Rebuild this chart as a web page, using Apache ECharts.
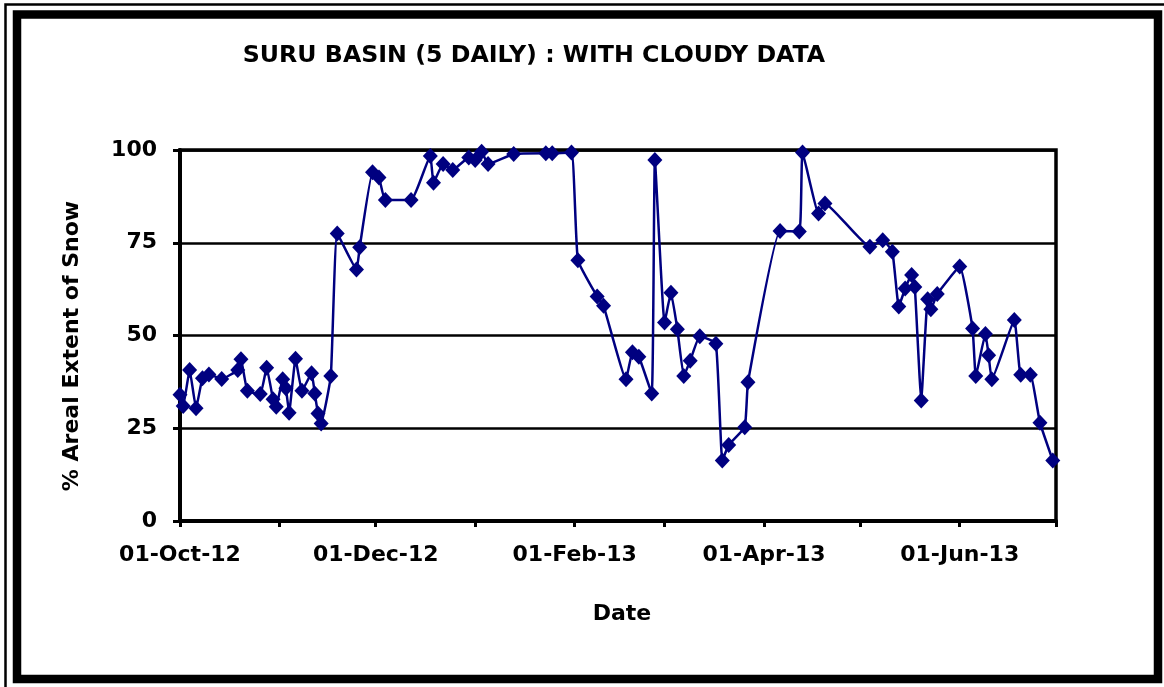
<!DOCTYPE html>
<html>
<head>
<meta charset="utf-8">
<title>Suru Basin snow cover</title>
<script src="https://cdn.jsdelivr.net/npm/echarts@6/dist/echarts.min.js"></script>
<style>
  html, body { margin: 0; padding: 0; background: #ffffff; }
  #chart { width: 1164px; height: 687px; }
</style>
</head>
<body>
<div id="chart"></div>
<script>
// Observation dates (5-daily products, cloudy scenes included)
const dates = [
  '2012-10-01', '2012-10-02', '2012-10-04', '2012-10-06', '2012-10-08', '2012-10-10',
  '2012-10-14', '2012-10-19', '2012-10-20', '2012-10-22', '2012-10-26', '2012-10-28',
  '2012-10-30', '2012-10-31', '2012-11-02', '2012-11-03', '2012-11-04', '2012-11-06',
  '2012-11-08', '2012-11-11', '2012-11-12', '2012-11-13', '2012-11-14', '2012-11-17',
  '2012-11-19', '2012-11-25', '2012-11-26', '2012-11-30', '2012-12-02', '2012-12-04',
  '2012-12-12', '2012-12-18', '2012-12-19', '2012-12-22', '2012-12-25', '2012-12-30',
  '2013-01-01', '2013-01-03', '2013-01-05', '2013-01-13', '2013-01-23', '2013-01-25',
  '2013-01-31', '2013-02-02', '2013-02-08', '2013-02-10', '2013-02-17', '2013-02-19',
  '2013-02-21', '2013-02-25', '2013-02-26', '2013-03-01', '2013-03-03', '2013-03-05',
  '2013-03-07', '2013-03-09', '2013-03-12', '2013-03-17', '2013-03-19', '2013-03-21',
  '2013-03-26', '2013-03-27', '2013-04-06', '2013-04-12', '2013-04-13', '2013-04-18',
  '2013-04-20', '2013-05-04', '2013-05-08', '2013-05-11', '2013-05-13', '2013-05-15',
  '2013-05-17', '2013-05-18', '2013-05-20', '2013-05-22', '2013-05-23', '2013-05-25',
  '2013-06-01', '2013-06-05', '2013-06-06', '2013-06-09', '2013-06-10', '2013-06-11',
  '2013-06-18', '2013-06-20', '2013-06-23', '2013-06-26', '2013-06-30'
];

// Areal extent of snow (%) for each date above
const snowCover = [
  34.0, 31.0, 40.7, 30.4, 38.5, 39.5,
  38.3, 40.7, 43.6, 35.1, 34.2, 41.3,
  32.8, 30.8, 38.2, 35.8, 29.2, 43.7,
  35.1, 39.8, 34.4, 29.0, 26.3, 39.1,
  77.5, 67.8, 73.8, 94.0, 92.6, 86.5,
  86.5, 98.4, 91.2, 96.2, 94.6, 98.0,
  97.3, 99.5, 96.2, 98.9, 99.1, 99.1,
  99.3, 70.3, 60.5, 58.0, 38.2, 45.5,
  44.3, 34.4, 97.3, 53.5, 61.5, 51.7,
  39.1, 43.2, 49.8, 47.8, 16.3, 20.5,
  25.3, 37.4, 78.2, 78.0, 99.3, 82.9,
  85.6, 73.9, 75.7, 72.6, 57.8, 62.7,
  66.3, 63.1, 32.5, 59.8, 57.1, 61.2,
  68.6, 51.9, 39.1, 50.4, 44.7, 38.2,
  54.2, 39.4, 39.4, 26.5, 16.3
];

// Date axis: a tick at every month start, a label every second month
const monthTicks = [
  '2012-10-01', '2012-11-01', '2012-12-01', '2013-01-01', '2013-02-01',
  '2013-03-01', '2013-04-01', '2013-05-01', '2013-06-01', '2013-07-01'
];
const labelledMonths = ['2012-10-01', '2012-12-01', '2013-02-01', '2013-04-01', '2013-06-01'];

// Value axis ticks
const yTicks = [0, 25, 50, 75, 100];

const MONTH_NAMES = ['Jan', 'Feb', 'Mar', 'Apr', 'May', 'Jun', 'Jul', 'Aug', 'Sep', 'Oct', 'Nov', 'Dec'];
const FONT = '"DejaVu Sans", "Liberation Sans", Arial, sans-serif';
const NAVY = '#000080';

function toTime(s) {
  const p = s.split('-').map(Number);
  return new Date(p[0], p[1] - 1, p[2]).getTime();
}
function formatDate(t) {
  const d = new Date(t);
  const day = String(d.getDate()).padStart(2, '0');
  return day + '-' + MONTH_NAMES[d.getMonth()] + '-' + String(d.getFullYear()).slice(2);
}

const chart = echarts.init(document.getElementById('chart'), null, { renderer: 'canvas' });

const option = {
  animation: false,
  backgroundColor: '#ffffff',
  grid: {
    left: 180, right: 108, top: 150, bottom: 166,
    show: true, borderColor: '#000000', borderWidth: 3.5, backgroundColor: 'transparent'
  },
  xAxis: {
    // dates are carried as millisecond timestamps on a linear axis
    type: 'value',
    min: toTime(monthTicks[0]),
    max: toTime(monthTicks[monthTicks.length - 1]),
    axisLine: { show: true, onZero: false, lineStyle: { color: '#000', width: 4 } },
    axisTick: {
      show: true, inside: false, length: 6,
      lineStyle: { color: '#000', width: 3 },
      customValues: monthTicks.map(toTime)
    },
    axisLabel: {
      show: true, margin: 23,
      color: '#000', fontFamily: FONT, fontWeight: 'bold', fontSize: 22,
      customValues: labelledMonths.map(toTime),
      formatter: function (v) { return formatDate(v); }
    },
    splitLine: { show: false }
  },
  yAxis: {
    type: 'value',
    min: yTicks[0], max: yTicks[yTicks.length - 1], interval: 25,
    axisLine: { show: true, lineStyle: { color: '#000', width: 4 } },
    axisTick: { show: true, inside: false, length: 7, lineStyle: { color: '#000', width: 3 } },
    axisLabel: {
      margin: 23, color: '#000', fontFamily: FONT, fontWeight: 'bold', fontSize: 22
    },
    splitLine: { show: true, lineStyle: { color: '#000', width: 2.5 } }
  },
  series: [{
    type: 'line',
    data: dates.map(function (d, i) { return [toTime(d), snowCover[i]]; }),
    smooth: 0.12,
    symbol: 'diamond',
    symbolSize: [15, 16],
    showSymbol: true,
    clip: false,
    lineStyle: { color: NAVY, width: 2.5 },
    itemStyle: { color: NAVY, borderWidth: 0 },
    z: 5
  }],
  graphic: [
    // outer frame: thin line on the top and left, thick black border inside it
    {
      type: 'polyline', silent: true,
      shape: { points: [[5.5, 687], [5.5, 4.5], [1164, 4.5]] },
      style: { stroke: '#000', lineWidth: 2.5, fill: null }
    },
    {
      type: 'rect', silent: true,
      shape: { x: 17, y: 14.5, width: 1141, height: 664.5 },
      style: { stroke: '#000', lineWidth: 8.5, fill: null }
    },
    {
      type: 'text', silent: true, x: 534, y: 56,
      style: {
        text: 'SURU BASIN (5 DAILY) : WITH CLOUDY DATA',
        fill: '#000', font: 'bold 23.7px ' + FONT,
        align: 'center', verticalAlign: 'middle'
      }
    },
    {
      type: 'text', silent: true, x: 72, y: 346, rotation: Math.PI / 2,
      style: {
        text: '% Areal Extent of Snow',
        fill: '#000', font: 'bold 22px ' + FONT,
        align: 'center', verticalAlign: 'middle'
      }
    },
    {
      type: 'text', silent: true, x: 622, y: 614,
      style: {
        text: 'Date',
        fill: '#000', font: 'bold 22px ' + FONT,
        align: 'center', verticalAlign: 'middle'
      }
    }
  ]
};

chart.setOption(option);
</script>
</body>
</html>
